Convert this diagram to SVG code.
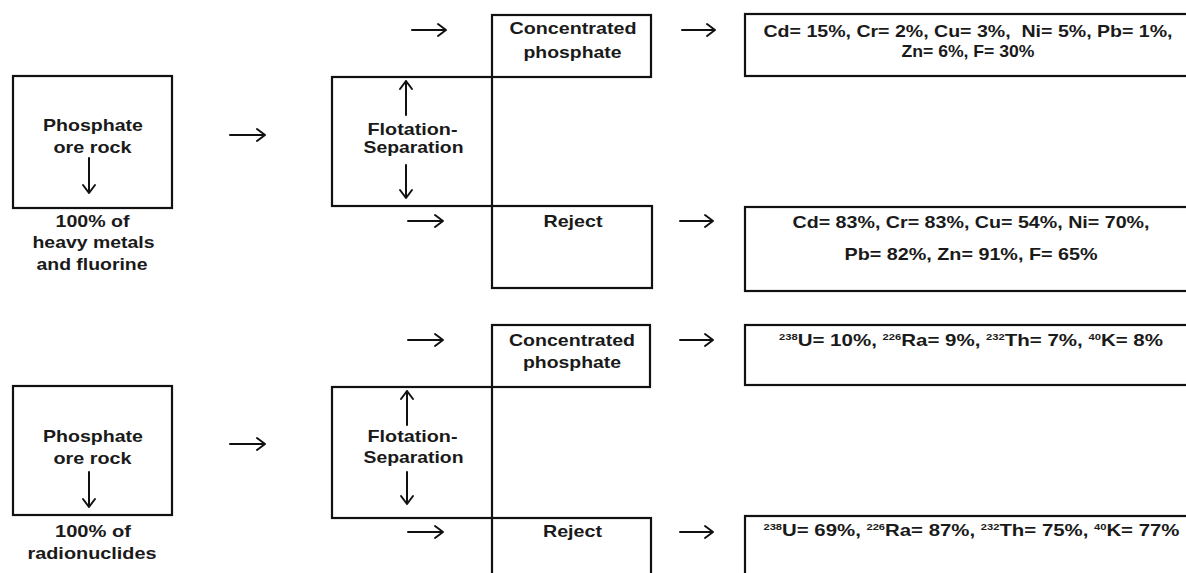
<svg xmlns="http://www.w3.org/2000/svg" width="1186" height="573" viewBox="0 0 1186 573">
<style>
  .box { fill: none; stroke: #111; stroke-width: 2.2; }
  .lbl { font-family: "Liberation Sans", Arial, sans-serif; font-weight: bold; font-size: 16.5px; fill: #1a1a1a; text-anchor: middle; }
  .arr { fill: none; stroke: #111; stroke-width: 2; stroke-linecap: round; stroke-linejoin: round; }
  .sup { font-size: 9px; }
</style>
<rect width="1186" height="573" fill="#fff"/>

<!-- ===== Top section: heavy metals ===== -->
<g id="rock1">
  <rect class="box" x="13" y="76" width="159" height="132"/>
  <text class="lbl" x="93" y="131" textLength="100" lengthAdjust="spacingAndGlyphs">Phosphate</text>
  <text class="lbl" x="92.5" y="153" textLength="78" lengthAdjust="spacingAndGlyphs">ore rock</text>
  <text class="lbl" x="92.5" y="227" textLength="74" lengthAdjust="spacingAndGlyphs">100% of</text>
  <text class="lbl" x="93.5" y="248" textLength="122" lengthAdjust="spacingAndGlyphs">heavy metals</text>
  <text class="lbl" x="92" y="270" textLength="111" lengthAdjust="spacingAndGlyphs">and fluorine</text>
</g>
<g id="flot1">
  <rect class="box" x="332" y="77" width="160" height="129"/>
  <text class="lbl" x="412.5" y="135" textLength="90" lengthAdjust="spacingAndGlyphs">Flotation-</text>
  <text class="lbl" x="413.5" y="153" textLength="100" lengthAdjust="spacingAndGlyphs">Separation</text>
</g>
<g id="conc1">
  <rect class="box" x="492" y="15" width="159" height="62"/>
  <text class="lbl" x="573" y="34" textLength="127" lengthAdjust="spacingAndGlyphs">Concentrated</text>
  <text class="lbl" x="572.5" y="58" textLength="98" lengthAdjust="spacingAndGlyphs">phosphate</text>
</g>
<g id="reject1">
  <rect class="box" x="492" y="206" width="160" height="82"/>
  <text class="lbl" x="573" y="227" textLength="59" lengthAdjust="spacingAndGlyphs">Reject</text>
</g>
<g id="res1">
  <rect class="box" x="745" y="14" width="450" height="62"/>
  <text class="lbl" x="968" y="37" textLength="409" lengthAdjust="spacingAndGlyphs" xml:space="preserve">Cd= 15%, Cr= 2%, Cu= 3%,  Ni= 5%, Pb= 1%,</text>
  <text class="lbl" x="968" y="57" textLength="133" lengthAdjust="spacingAndGlyphs">Zn= 6%, F= 30%</text>
</g>
<g id="res2">
  <rect class="box" x="745" y="207" width="450" height="84"/>
  <text class="lbl" x="971" y="228" textLength="357" lengthAdjust="spacingAndGlyphs">Cd= 83%, Cr= 83%, Cu= 54%, Ni= 70%,</text>
  <text class="lbl" x="971" y="260" textLength="253" lengthAdjust="spacingAndGlyphs">Pb= 82%, Zn= 91%, F= 65%</text>
</g>

<!-- ===== Bottom section: radionuclides ===== -->
<g id="rock2">
  <rect class="box" x="13" y="386" width="159" height="129"/>
  <text class="lbl" x="93" y="442" textLength="100" lengthAdjust="spacingAndGlyphs">Phosphate</text>
  <text class="lbl" x="92.5" y="464" textLength="78" lengthAdjust="spacingAndGlyphs">ore rock</text>
  <text class="lbl" x="93" y="537" textLength="76" lengthAdjust="spacingAndGlyphs">100% of</text>
  <text class="lbl" x="92" y="559" textLength="129" lengthAdjust="spacingAndGlyphs">radionuclides</text>
</g>
<g id="flot2">
  <rect class="box" x="332" y="387" width="160" height="131"/>
  <text class="lbl" x="412.5" y="442" textLength="90" lengthAdjust="spacingAndGlyphs">Flotation-</text>
  <text class="lbl" x="413.5" y="463" textLength="100" lengthAdjust="spacingAndGlyphs">Separation</text>
</g>
<g id="conc2">
  <rect class="box" x="492" y="325" width="158" height="62"/>
  <text class="lbl" x="572" y="346" textLength="126" lengthAdjust="spacingAndGlyphs">Concentrated</text>
  <text class="lbl" x="572" y="368" textLength="98" lengthAdjust="spacingAndGlyphs">phosphate</text>
</g>
<g id="reject2">
  <rect class="box" x="492" y="518" width="159" height="70"/>
  <text class="lbl" x="572.5" y="537" textLength="59" lengthAdjust="spacingAndGlyphs">Reject</text>
</g>
<g id="res3">
  <rect class="box" x="745" y="325" width="450" height="60"/>
  <text class="lbl" x="971" y="346" textLength="384" lengthAdjust="spacingAndGlyphs"><tspan class="sup" dy="-6">238</tspan><tspan dy="6">U= 10%, </tspan><tspan class="sup" dy="-6">226</tspan><tspan dy="6">Ra= 9%, </tspan><tspan class="sup" dy="-6">232</tspan><tspan dy="6">Th= 7%, </tspan><tspan class="sup" dy="-6">40</tspan><tspan dy="6">K= 8%</tspan></text>
</g>
<g id="res4">
  <rect class="box" x="745" y="516" width="450" height="70"/>
  <text class="lbl" x="971.5" y="536" textLength="416" lengthAdjust="spacingAndGlyphs"><tspan class="sup" dy="-6">238</tspan><tspan dy="6">U= 69%, </tspan><tspan class="sup" dy="-6">226</tspan><tspan dy="6">Ra= 87%, </tspan><tspan class="sup" dy="-6">232</tspan><tspan dy="6">Th= 75%, </tspan><tspan class="sup" dy="-6">40</tspan><tspan dy="6">K= 77%</tspan></text>
</g>

<!-- ===== Connectors ===== -->
<g id="connectors">
  <!-- top section -->
  <path class="arr" d="M230,135 H265 M257,129 L265,135 L257,141"/>
  <path class="arr" d="M412,30 H446 M438,24 L446,30 L438,36"/>
  <path class="arr" d="M682,30 H715 M707,24 L715,30 L707,36"/>
  <path class="arr" d="M408,221 H443 M435,215 L443,221 L435,227"/>
  <path class="arr" d="M680,221 H713 M705,215 L713,221 L705,227"/>
  <path class="arr" d="M406,115 V81 M400,89 L406,81 L412,89"/>
  <path class="arr" d="M406,165 V198 M400,190 L406,198 L412,190"/>
  <path class="arr" d="M89,158 V193 M83,185 L89,193 L95,185"/>
  <!-- bottom section -->
  <path class="arr" d="M230,444 H265 M257,438 L265,444 L257,450"/>
  <path class="arr" d="M408,340 H443 M435,334 L443,340 L435,346"/>
  <path class="arr" d="M680,340 H713 M705,334 L713,340 L705,346"/>
  <path class="arr" d="M408,532 H443 M435,526 L443,532 L435,538"/>
  <path class="arr" d="M680,532 H713 M705,526 L713,532 L705,538"/>
  <path class="arr" d="M407,425 V391 M401,399 L407,391 L413,399"/>
  <path class="arr" d="M407,472 V504 M401,496 L407,504 L413,496"/>
  <path class="arr" d="M89,472 V507 M83,499 L89,507 L95,499"/>
</g>
</svg>
